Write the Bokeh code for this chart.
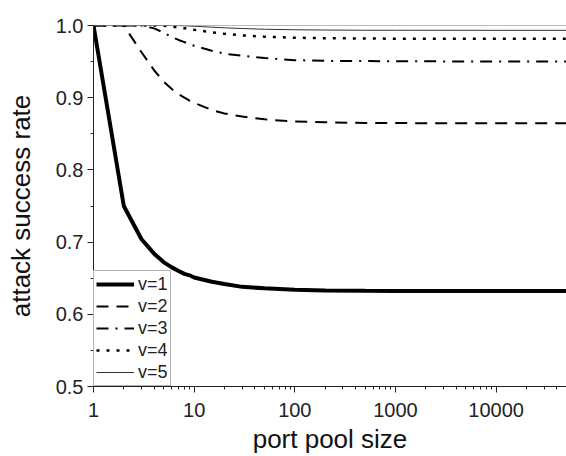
from bokeh.plotting import figure
from bokeh.models import Range1d, LogTicker, FixedTicker, Legend, LegendItem, Span, NumeralTickFormatter
from bokeh.embed import file_html
from bokeh.resources import INLINE

# port pool size
x = [1, 2, 3, 4, 5, 6, 7, 8, 9, 10, 15, 20, 30, 50, 100, 200, 500, 1000, 10000, 50000]

v1 = [1.0, 0.750, 0.704, 0.684, 0.672, 0.665, 0.660, 0.656, 0.654, 0.651, 0.645, 0.642,
      0.638, 0.636, 0.634, 0.633, 0.6325, 0.6323, 0.6321, 0.6321]
v2 = [1.0, 1.0, 0.963, 0.938, 0.922, 0.912, 0.905, 0.900, 0.896, 0.893, 0.883, 0.878,
      0.874, 0.870, 0.867, 0.866, 0.865, 0.8648, 0.8647, 0.8647]
v3 = [1.0, 1.0, 1.0, 0.996, 0.990, 0.984, 0.980, 0.977, 0.974, 0.972, 0.965, 0.961,
      0.958, 0.955, 0.952, 0.951, 0.9507, 0.9504, 0.9502, 0.9502]
v4 = [1.0, 1.0, 1.0, 1.0, 0.9997, 0.9986, 0.9973, 0.9961, 0.995, 0.994, 0.9905, 0.9885,
      0.9863, 0.9845, 0.9831, 0.9824, 0.982, 0.9817, 0.9817, 0.9817]
v5 = [1.0, 1.0, 1.0, 1.0, 1.0, 1.0, 0.9999, 0.9996, 0.9993, 0.999, 0.9977, 0.9968,
      0.9958, 0.9948, 0.9941, 0.9937, 0.9934, 0.9934, 0.9933, 0.9933]

labels = ["v=1", "v=2", "v=3", "v=4", "v=5"]
y_ticks = [0.5, 0.6, 0.7, 0.8, 0.9, 1.0]
x_title = "port pool size"
y_title = "attack success rate"

FONT = "Liberation Sans"

p = figure(width=566, height=456, x_axis_type="log",
           x_range=Range1d(1, 50000), y_range=Range1d(0.5, 1.0),
           output_backend="svg", toolbar_location=None,
           min_border_left=93, min_border_right=0, min_border_top=25, min_border_bottom=70)

p.outline_line_color = None
p.grid.visible = False
p.background_fill_color = "white"
p.border_fill_color = "white"

styles = [
    dict(line_width=4, line_dash="solid", line_color="black"),
    dict(line_width=2, line_dash="12 8", line_color="black"),
    dict(line_width=2, line_dash="12 7 2 7", line_color="black"),
    dict(line_width=2.5, line_dash="3 7", line_color="black"),
    dict(line_width=1, line_dash="solid", line_color="#333333"),
]
series = [v1, v2, v3, v4, v5]
renderers = []
for ys, st in zip(series, styles):
    r = p.line(x, ys, **st)
    renderers.append(r)

top = Span(location=1.0, dimension="width", line_color="#777777", line_width=1)
p.add_layout(top)

# axes
p.xaxis.ticker = LogTicker(num_minor_ticks=10)
p.yaxis.ticker = FixedTicker(ticks=y_ticks, minor_ticks=[0.55, 0.65, 0.75, 0.85, 0.95])
p.yaxis.formatter = NumeralTickFormatter(format="0.0")
p.xaxis.formatter = NumeralTickFormatter(format="0")

for ax in (p.xaxis[0], p.yaxis[0]):
    ax.axis_line_color = "#222222"
    ax.axis_line_width = 1
    ax.major_tick_line_color = "#222222"
    ax.minor_tick_line_color = "#222222"
    ax.major_tick_out = 6
    ax.major_tick_in = 0
    ax.minor_tick_out = 3
    ax.minor_tick_in = 0
    ax.major_label_text_font = FONT
    ax.major_label_text_font_size = "20px"
    ax.major_label_text_color = "#222222"
    ax.axis_label_text_font = FONT
    ax.axis_label_text_font_size = "26px"
    ax.axis_label_text_font_style = "normal"
    ax.axis_label_text_color = "#111111"

p.xaxis.axis_label = x_title
p.yaxis.axis_label = y_title
p.xaxis.major_label_standoff = 10
p.xaxis.axis_label_standoff = 4
p.yaxis.major_label_standoff = 4
p.yaxis.axis_label_standoff = 17

legend = Legend(items=[LegendItem(label=l, renderers=[r]) for l, r in zip(labels, renderers)],
                location="bottom_left", margin=0, padding=2, spacing=0,
                glyph_width=38, glyph_height=22, label_height=22, label_standoff=4,
                label_text_font=FONT, label_text_font_size="18px", label_text_color="#222222",
                border_line_color="#666666", border_line_width=1,
                background_fill_color="white", background_fill_alpha=1.0)
p.add_layout(legend)

open("out.html", "w").write(file_html(p, INLINE))
